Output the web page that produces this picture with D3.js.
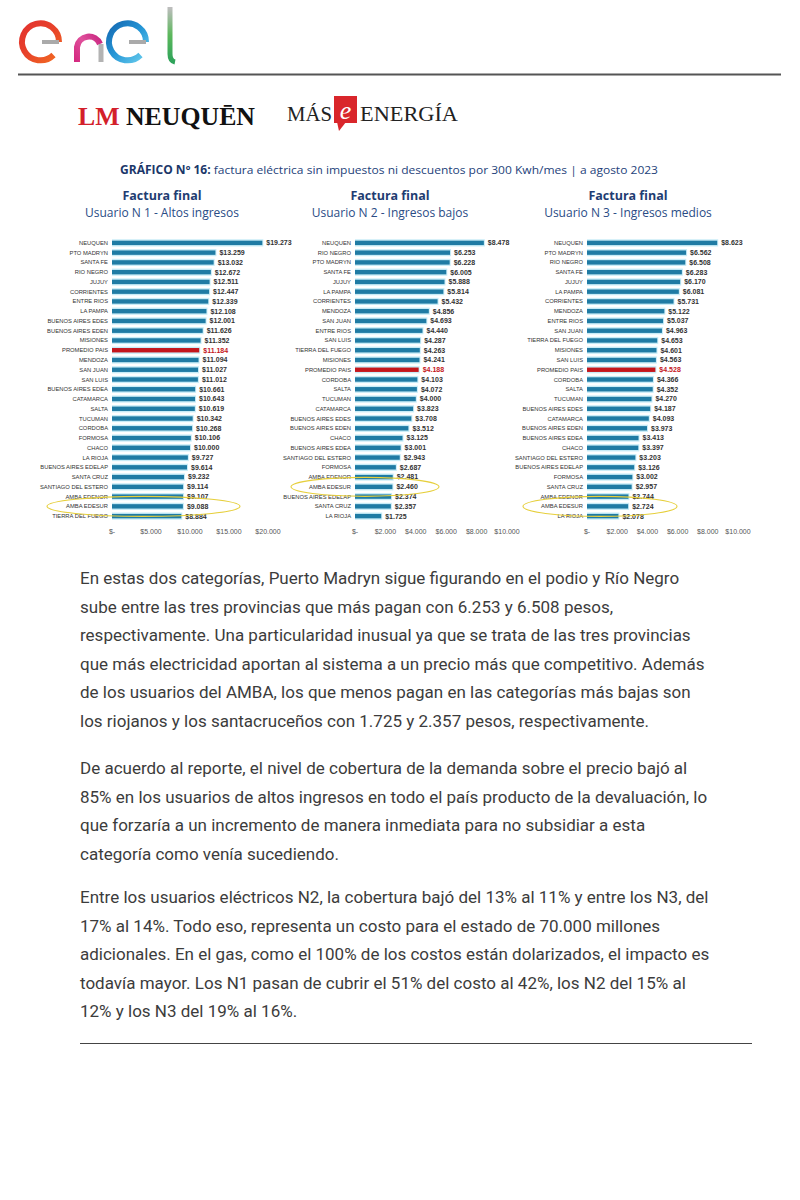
<!DOCTYPE html>
<html><head><meta charset="utf-8">
<script src="https://cdn.jsdelivr.net/npm/d3@7"></script>
<style>body{margin:0;background:#fff}svg{display:block}</style>
</head><body><svg id="c" width="800" height="1200"></svg>
<script>
// ---------- DATA ----------
const catsN1 = ["NEUQUEN","PTO MADRYN","SANTA FE","RIO NEGRO","JUJUY","CORRIENTES","ENTRE RIOS","LA PAMPA","BUENOS AIRES EDES","BUENOS AIRES EDEN","MISIONES","PROMEDIO PAIS","MENDOZA","SAN JUAN","SAN LUIS","BUENOS AIRES EDEA","CATAMARCA","SALTA","TUCUMAN","CORDOBA","FORMOSA","CHACO","LA RIOJA","BUENOS AIRES EDELAP","SANTA CRUZ","SANTIAGO DEL ESTERO","AMBA EDENOR","AMBA EDESUR","TIERRA DEL FUEGO"];
const valsN1 = [19273,13259,13032,12672,12511,12447,12339,12108,12001,11626,11352,11184,11094,11027,11012,10661,10643,10619,10342,10268,10106,10000,9727,9614,9232,9114,9107,9088,8884];
const catsN2 = ["NEUQUEN","RIO NEGRO","PTO MADRYN","SANTA FE","JUJUY","LA PAMPA","CORRIENTES","MENDOZA","SAN JUAN","ENTRE RIOS","SAN LUIS","TIERRA DEL FUEGO","MISIONES","PROMEDIO PAIS","CORDOBA","SALTA","TUCUMAN","CATAMARCA","BUENOS AIRES EDES","BUENOS AIRES EDEN","CHACO","BUENOS AIRES EDEA","SANTIAGO DEL ESTERO","FORMOSA","AMBA EDENOR","AMBA EDESUR","BUENOS AIRES EDELAP","SANTA CRUZ","LA RIOJA"];
const valsN2 = [8478,6253,6228,6005,5888,5814,5432,4856,4693,4440,4287,4263,4241,4188,4103,4072,4000,3823,3708,3512,3125,3001,2943,2687,2481,2460,2374,2357,1725];
const catsN3 = ["NEUQUEN","PTO MADRYN","RIO NEGRO","SANTA FE","JUJUY","LA PAMPA","CORRIENTES","MENDOZA","ENTRE RIOS","SAN JUAN","TIERRA DEL FUEGO","MISIONES","SAN LUIS","PROMEDIO PAIS","CORDOBA","SALTA","TUCUMAN","BUENOS AIRES EDES","CATAMARCA","BUENOS AIRES EDEN","BUENOS AIRES EDEA","CHACO","SANTIAGO DEL ESTERO","BUENOS AIRES EDELAP","FORMOSA","SANTA CRUZ","AMBA EDENOR","AMBA EDESUR","LA RIOJA"];
const valsN3 = [8623,6562,6508,6283,6170,6081,5731,5122,5037,4963,4653,4601,4563,4528,4366,4352,4270,4187,4093,3973,3413,3397,3203,3126,3002,2957,2744,2724,2078];
const ticksN1 = [0,5000,10000,15000,20000];
const ticksN2 = [0,2000,4000,6000,8000,10000];
const ticksN3 = [0,2000,4000,6000,8000,10000];
const panelTitles = ["Factura final","Factura final","Factura final"];
const panelSubtitles = ["Usuario N 1 - Altos ingresos","Usuario N 2 - Ingresos bajos","Usuario N 3 - Ingresos medios"];
const highlightCat = "PROMEDIO PAIS";
const circledCat = "AMBA EDESUR";
const chartTitleBold = "GRÁFICO Nº 16:";
const chartTitleRest = " factura eléctrica sin impuestos ni descuentos por 300 Kwh/mes | a agosto 2023";
const paragraphs = [
 ["En estas dos categorías, Puerto Madryn sigue figurando en el podio y Río Negro",
  "sube entre las tres provincias que más pagan con 6.253 y 6.508 pesos,",
  "respectivamente. Una particularidad inusual ya que se trata de las tres provincias",
  "que más electricidad aportan al sistema a un precio más que competitivo. Además",
  "de los usuarios del AMBA, los que menos pagan en las categorías más bajas son",
  "los riojanos y los santacruceños con 1.725 y 2.357 pesos, respectivamente."],
 ["De acuerdo al reporte, el nivel de cobertura de la demanda sobre el precio bajó al",
  "85% en los usuarios de altos ingresos en todo el país producto de la devaluación, lo",
  "que forzaría a un incremento de manera inmediata para no subsidiar a esta",
  "categoría como venía sucediendo."],
 ["Entre los usuarios eléctricos N2, la cobertura bajó del 13% al 11% y entre los N3, del",
  "17% al 14%. Todo eso, representa un costo para el estado de 70.000 millones",
  "adicionales. En el gas, como el 100% de los costos están dolarizados, el impacto es",
  "todavía mayor. Los N1 pasan de cubrir el 51% del costo al 42%, los N2 del 15% al",
  "12% y los N3 del 19% al 16%."]
];

// ---------- DRAW ----------
const svg = d3.select("#c");
const loc = d3.formatLocale({decimal:",", thousands:".", grouping:[3], currency:["$",""]});
const fmt = loc.format("$,.0f");
const tickFmt = v => v === 0 ? "$-" : fmt(v);

const defs = svg.append("defs");
function grad(id, stops, x1, y1, x2, y2){
  const g = defs.append("linearGradient").attr("id", id).attr("gradientUnits","userSpaceOnUse")
    .attr("x1",x1).attr("y1",y1).attr("x2",x2).attr("y2",y2);
  stops.forEach((c,i)=>g.append("stop").attr("offset", i/(stops.length-1)).attr("stop-color", c));
}
grad("gRed", ["#e2302f","#e8432a","#f37021"], 20, 20, 60, 64);
grad("gMag", ["#d4287f","#e0509c","#c7247f"], 74, 60, 104, 40);
grad("gBlue", ["#1466b0","#2596d6","#6cd0ef"], 108, 22, 146, 62);
grad("gGreen", ["#bdbdbd","#5cb85c","#2ea35a"], 170, 8, 170, 62);

// enel logo
const logo = svg.append("g").attr("fill","none").attr("stroke-linecap","butt");
logo.append("path").attr("d","M59,42 A18.5,18.5 0 1 0 53.5,55").attr("stroke","url(#gRed)").attr("stroke-width",6);
logo.append("path").attr("d","M42,42 H59").attr("stroke","#aaa").attr("stroke-width",4);
logo.append("path").attr("d","M77,62 V47 A12,12 0 0 1 100,44").attr("stroke","url(#gMag)").attr("stroke-width",6);
logo.append("path").attr("d","M101,44 V62").attr("stroke","#b3b3b3").attr("stroke-width",5);
logo.append("path").attr("d","M146,42 A18.5,18.5 0 1 0 140.5,55").attr("stroke","url(#gBlue)").attr("stroke-width",6);
logo.append("path").attr("d","M129,42 H146").attr("stroke","#aaa").attr("stroke-width",4);
logo.append("path").attr("d","M170,7 V54 Q170,61 175,62").attr("stroke","url(#gGreen)").attr("stroke-width",5);

svg.append("line").attr("x1",18).attr("x2",781).attr("y1",74.5).attr("y2",74.5).attr("stroke","#555").attr("stroke-width",2);

// publication logos
const lm = svg.append("text").attr("x",78).attr("y",125).attr("font-family","Liberation Serif").attr("font-weight",700)
  .attr("font-size",26).attr("fill","#111").attr("textLength",177).attr("lengthAdjust","spacingAndGlyphs");
lm.append("tspan").attr("fill","#d3202a").text("LM");
lm.append("tspan").text(" NEUQUĒN");
svg.append("text").attr("x",287).attr("y",121).attr("font-family","Liberation Serif")
  .attr("font-size",22).attr("fill","#222").attr("textLength",45).attr("lengthAdjust","spacingAndGlyphs").text("MÁS");
svg.append("rect").attr("x",334).attr("y",96).attr("width",23).attr("height",27).attr("fill","#d9262b");
svg.append("path").attr("d","M337,122 L346,122 L339,131 Z").attr("fill","#d9262b");
svg.append("text").attr("x",345.5).attr("y",119).attr("text-anchor","middle").attr("font-family","Liberation Serif")
  .attr("font-style","italic").attr("font-size",26).attr("fill","#fff").text("e");
svg.append("text").attr("x",360).attr("y",121).attr("font-family","Liberation Serif")
  .attr("font-size",22).attr("fill","#222").attr("textLength",98).attr("lengthAdjust","spacingAndGlyphs").text("ENERGÍA");

// chart title
const tt = svg.append("text").attr("x",120).attr("y",174).attr("font-family","Open Sans, Noto Sans, sans-serif")
  .attr("font-size",11.5).attr("fill","#24427a").attr("textLength",538).attr("lengthAdjust","spacingAndGlyphs");
tt.append("tspan").attr("font-weight",700).attr("fill","#1b3769").text(chartTitleBold);
tt.append("tspan").text(chartTitleRest);

// panels
const panels = [
  {cats:catsN1, vals:valsN1, ticks:ticksN1, r0:112, r1:268, cx:162, ell:{cx:143.5, rx:96.5, ry:10}},
  {cats:catsN2, vals:valsN2, ticks:ticksN2, r0:355, r1:507, cx:390, ell:{cx:365, rx:74, ry:9.5}},
  {cats:catsN3, vals:valsN3, ticks:ticksN3, r0:587, r1:738, cx:628, ell:{cx:600, rx:77, ry:10}}
];

panels.forEach((p, pi) => {
  const g = svg.append("g");
  const data = p.cats.map((c,i)=>({cat:c, val:p.vals[i]}));
  const x = d3.scaleLinear().domain([p.ticks[0], p.ticks[p.ticks.length-1]]).range([p.r0, p.r1]);
  const y = d3.scaleBand().domain(p.cats).range([238, 521]).paddingInner(0).paddingOuter(0);
  const bw = y.bandwidth();

  g.append("text").attr("x",p.cx).attr("y",200).attr("text-anchor","middle")
    .attr("font-family","Open Sans, Noto Sans, sans-serif").attr("font-weight",700).attr("font-size",12.5)
    .attr("fill","#1f3d72").text(panelTitles[pi]);
  g.append("text").attr("x",p.cx).attr("y",217).attr("text-anchor","middle")
    .attr("font-family","Open Sans, Noto Sans, sans-serif").attr("font-size",12)
    .attr("fill","#2a4c85").text(panelSubtitles[pi]);

  g.selectAll("rect.band").data(data).join("rect").attr("class","band")
    .attr("x", x(0)).attr("width", d => x(d.val)-x(0)+1)
    .attr("y", d => y(d.cat)+bw/2-3.6).attr("height",7.2).attr("fill","#c8ecf7");
  g.selectAll("rect.bar").data(data).join("rect").attr("class","bar")
    .attr("x", x(0)).attr("width", d => x(d.val)-x(0))
    .attr("y", d => y(d.cat)+bw/2-2.2).attr("height",4.4)
    .attr("fill", d => d.cat===highlightCat ? "#c4161c" : "#1f7ba4");
  g.selectAll("text.cat").data(data).join("text").attr("class","cat")
    .attr("x", x(0)-4).attr("y", d => y(d.cat)+bw/2+2)
    .attr("text-anchor","end").attr("font-family","Liberation Sans Narrow, Liberation Sans, sans-serif")
    .attr("font-size",5.8).attr("fill","#333").text(d => d.cat);
  g.selectAll("text.val").data(data).join("text").attr("class","val")
    .attr("x", d => x(d.val)+4).attr("y", d => y(d.cat)+bw/2+2.4)
    .attr("font-family","Liberation Sans Narrow, Liberation Sans, sans-serif").attr("font-weight",700)
    .attr("font-size",7).attr("fill", d => d.cat===highlightCat ? "#c4161c" : "#333").text(d => fmt(d.val));
  g.selectAll("text.tick").data(p.ticks).join("text").attr("class","tick")
    .attr("x", d => x(d)).attr("y", 534).attr("text-anchor","middle")
    .attr("font-family","Liberation Sans Narrow, Liberation Sans, sans-serif")
    .attr("font-size",7).attr("fill","#555").text(tickFmt);
  g.append("ellipse").attr("cx", p.ell.cx).attr("cy", y(circledCat)+bw/2)
    .attr("rx", p.ell.rx).attr("ry", p.ell.ry).attr("fill","none").attr("stroke","#e6cf3c").attr("stroke-width",1.1);
});

// body text
const tg = svg.append("g").attr("font-family","Roboto, sans-serif").attr("font-size",17).attr("fill","#3c3c3c");
const paraStarts = [578, 768, 897];
paragraphs.forEach((lines, pi) => {
  tg.selectAll(null).data(lines).join("text").attr("x",80)
    .attr("y", (d,i) => paraStarts[pi] + i*28.6 + 6).text(d => d);
});
svg.append("line").attr("x1",80).attr("x2",752).attr("y1",1043.5).attr("y2",1043.5).attr("stroke","#444").attr("stroke-width",1);
</script></body></html>
